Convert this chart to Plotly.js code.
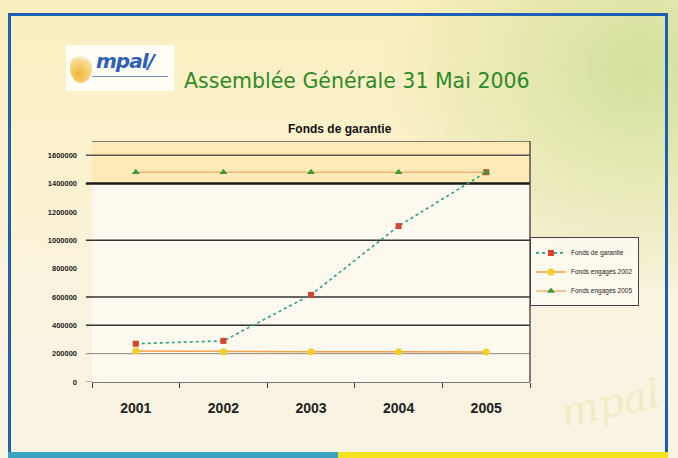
<!DOCTYPE html>
<html>
<head>
<meta charset="utf-8">
<script src="https://cdn.plot.ly/plotly-3.0.1.min.js"></script>
<style>
  html, body { margin:0; padding:0; width:678px; height:458px; overflow:hidden; background:#fff; }
  #bg { position:absolute; left:0; top:0; width:678px; height:458px;
    background:
      radial-gradient(ellipse 260px 230px at 640px 70px, rgba(205,222,150,0.85), rgba(205,222,150,0) 100%),
      linear-gradient(180deg, #fbefc0 0px, #fbf1cb 140px, #f9f3df 300px, #f8f3e3 458px); }
  #frame { position:absolute; left:8px; top:13px; width:660px; height:445px;
    border-left:3px solid #1d5fb4; border-top:3px solid #1d5fb4; border-right:3px solid #1d5fb4; box-sizing:border-box; }
  #stripL { position:absolute; left:8px; top:452px; width:330px; height:6px; background:#3aa3bd; }
  #stripR { position:absolute; left:338px; top:452px; width:330px; height:6px; background:#f6e21e; }
  #logo { position:absolute; left:66px; top:45px; width:108px; height:46px; background:#fffdf6; }
  #logo .sw { position:absolute; left:4px; top:8px; width:22px; height:30px; border-radius:50%;
    background:radial-gradient(circle at 40% 70%, #f3b43a, #f7df9a 60%, rgba(255,255,255,0) 75%); }
  #logo .t { position:absolute; left:30px; top:4px; font-family:"DejaVu Sans"; font-style:italic; font-weight:bold;
    font-size:20px; color:#2f5fb8; letter-spacing:-1px; }
  #logo .u { position:absolute; left:26px; top:31px; width:76px; height:1px; background:#7a8fc0; }
  #wm { position:absolute; left:560px; top:380px; font-family:"DejaVu Serif"; font-style:italic; font-size:40px;
    color:rgba(225,225,140,0.35); transform:rotate(-12deg); }
  #chart { position:absolute; left:0; top:0; width:678px; height:458px; }
</style>
</head>
<body>
<div id="bg"></div>
<div id="wm">mpal</div>
<div id="frame"></div>
<div id="stripL"></div>
<div id="stripR"></div>
<div id="logo"><div class="sw"></div><div class="t">mpal/</div><div class="u"></div></div>
<div id="chart"></div>
<script>
// ---- data ----
const years = ['2001', '2002', '2003', '2004', '2005'];
const seriesNames = ['Fonds de garantie', 'Fonds engagés 2002', 'Fonds engagés 2005'];
const fondsGarantie = [270000, 290000, 615000, 1100000, 1480000];
const fondsEngages2002 = [218000, 214000, 213000, 213000, 212000];
const fondsEngages2005 = [1480000, 1480000, 1480000, 1480000, 1480000];
const yTickVals = [0, 200000, 400000, 600000, 800000, 1000000, 1200000, 1400000, 1600000];
const yTickText = ['0', '200000', '400000', '600000', '800000', '1000000', '1200000', '1400000', '1600000'];
const gridLineVals = [200000, 400000, 600000, 1000000, 1400000, 1600000];
const yMax = 1700000;
const bandStart = 1400000;

// ---- styles ----
const gridStyle = {
  200000: {w: 1, c: '#8a8a80'},
  400000: {w: 1.6, c: '#333'},
  600000: {w: 1.6, c: '#333'},
  1000000: {w: 1.6, c: '#333'},
  1400000: {w: 2.6, c: '#1a1a1a'},
  1600000: {w: 1.5, c: '#555'}
};

const shapes = [];
shapes.push({type: 'rect', xref: 'paper', yref: 'y', x0: 0, x1: 1, y0: 0, y1: bandStart,
  fillcolor: '#fdf9ef', line: {width: 0}, layer: 'below'});
shapes.push({type: 'rect', xref: 'paper', yref: 'y', x0: 0, x1: 1, y0: bandStart, y1: yMax,
  fillcolor: '#fcebb6', line: {width: 0}, layer: 'below'});
gridLineVals.forEach(v => {
  const s = gridStyle[v];
  shapes.push({type: 'line', xref: 'paper', yref: 'y', x0: -0.014, x1: 1, y0: v, y1: v,
    line: {color: s.c, width: s.w}, layer: 'below'});
});
shapes.push({type: 'line', xref: 'paper', yref: 'y', x0: 0, x1: 1, y0: yMax, y1: yMax,
  line: {color: '#555', width: 1.5}, layer: 'below'});
shapes.push({type: 'line', xref: 'paper', yref: 'y', x0: 1, x1: 1, y0: 0, y1: yMax,
  line: {color: '#555', width: 1.5}, layer: 'below'});
shapes.push({type: 'line', xref: 'paper', yref: 'y', x0: -0.014, x1: 0, y0: 0, y1: 0,
  line: {color: '#777', width: 1}, layer: 'below'});

const traces = [
  {x: years, y: fondsGarantie, name: seriesNames[0], mode: 'lines+markers',
   line: {color: '#2a9f86', width: 1.6, dash: 'dot'},
   marker: {color: '#d8432f', size: 6, symbol: 'square'}},
  {x: years, y: fondsEngages2002, name: seriesNames[1], mode: 'lines+markers',
   line: {color: '#f1a24c', width: 1.5},
   marker: {color: '#f2d025', size: 7, symbol: 'circle'}},
  {x: years, y: fondsEngages2005, name: seriesNames[2], mode: 'lines+markers',
   line: {color: '#f3b27a', width: 1.5},
   marker: {color: '#3e9a35', size: 7, symbol: 'triangle-up'}}
];

const layout = {
  width: 678, height: 458,
  margin: {l: 92, r: 148, t: 141, b: 76},
  paper_bgcolor: 'rgba(0,0,0,0)',
  plot_bgcolor: 'rgba(0,0,0,0)',
  showlegend: true,
  xaxis: {
    type: 'category', range: [-0.5, 4.5], showgrid: false, zeroline: false,
    showline: true, linecolor: '#777', linewidth: 1,
    ticks: 'outside', tickson: 'boundaries', ticklen: 5, tickcolor: '#444',
    ticklabelstandoff: 13,
    tickfont: {family: 'Liberation Sans, Arial', size: 14, color: '#222', weight: 'bold'}
  },
  yaxis: {
    range: [0, yMax], showgrid: false, zeroline: false, showline: false,
    tickvals: yTickVals, ticktext: yTickText, ticks: '',
    ticklabelstandoff: 14,
    tickfont: {family: 'Liberation Sans, Arial', size: 7.5, color: '#222', weight: 'bold'}
  },
  legend: {
    x: 1, xanchor: 'left', y: 0.6, yanchor: 'top',
    bgcolor: 'rgba(253,250,240,0.9)', bordercolor: '#444', borderwidth: 1,
    font: {family: 'Liberation Sans, Arial', size: 6.5, color: '#222'},
    itemwidth: 30, tracegroupgap: 0
  },
  shapes: shapes,
  annotations: [
    {text: 'Assemblée Générale 31 Mai 2006', xref: 'paper', yref: 'paper', x: 0.605, y: 1.307,
     showarrow: false, font: {family: 'DejaVu Sans', size: 20.5, color: '#2f8a2a'}},
    {text: 'Fonds de garantie', xref: 'paper', yref: 'paper', x: 0.566, y: 1.087,
     showarrow: false, font: {family: 'Liberation Sans, Arial', size: 12, color: '#111', weight: 'bold'}}
  ]
};

Plotly.newPlot('chart', traces, layout, {displayModeBar: false, staticPlot: true});
</script>
</body>
</html>
